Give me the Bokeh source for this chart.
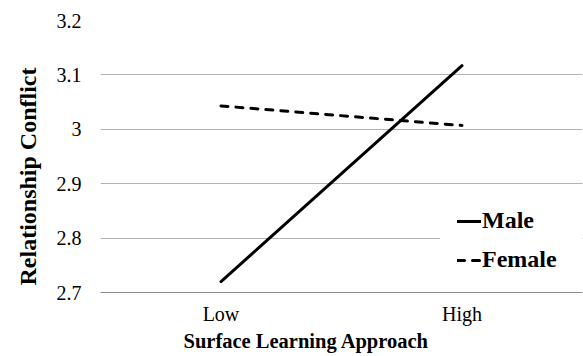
from bokeh.plotting import figure
from bokeh.models import FactorRange, Range1d, FixedTicker, Legend, LegendItem, Title
from bokeh.embed import file_html
from bokeh.resources import INLINE

categories = ["Low", "High"]
male = [2.72, 3.117]
female = [3.043, 3.007]
y_ticks = [2.7, 2.8, 2.9, 3.0, 3.1, 3.2]
y_tick_labels = ["2.7", "2.8", "2.9", "3", "3.1", "3.2"]
x_title = "Surface Learning Approach"
y_title = "Relationship Conflict"
series_names = ["Male", "Female"]

FONT = "Liberation Serif"

p = figure(width=583, height=356,
           x_range=FactorRange(*categories), y_range=Range1d(2.7, 3.2),
           output_backend="svg", toolbar_location=None,
           min_border_left=98, min_border_right=1,
           min_border_top=20, min_border_bottom=64)
p.outline_line_color = None
p.background_fill_color = "white"
p.border_fill_color = "white"
p.xgrid.grid_line_color = None
p.ygrid.grid_line_color = "#b3b3b3"
p.ygrid.grid_line_width = 1

p.yaxis.ticker = FixedTicker(ticks=y_ticks)
p.yaxis.major_label_overrides = dict(zip(y_ticks, y_tick_labels))
p.yaxis.axis_line_color = None
p.yaxis.major_tick_line_color = None
p.yaxis.minor_tick_line_color = None
p.yaxis.major_tick_out = 0
p.yaxis.major_tick_in = 0
p.yaxis.major_label_standoff = 19

p.xaxis.axis_line_color = "#8a8a8a"
p.xaxis.axis_line_width = 1
p.xaxis.major_tick_line_color = None
p.xaxis.minor_tick_line_color = None
p.xaxis.major_tick_out = 0
p.xaxis.major_tick_in = 0
p.xaxis.major_label_standoff = 10

for ax in (p.xaxis, p.yaxis):
    ax.major_label_text_font = FONT
    ax.major_label_text_font_size = "20px"
    ax.major_label_text_color = "black"

r_male = p.line(x=categories, y=male, line_color="black", line_width=3, line_cap="round")
r_female = p.line(x=categories, y=female, line_color="black", line_width=3,
                  line_dash="7 8", line_cap="round")

legend = Legend(items=[LegendItem(label=series_names[0], renderers=[r_male]),
                       LegendItem(label=series_names[1], renderers=[r_female])],
                location=(340, 2))
legend.background_fill_color = "white"
legend.background_fill_alpha = 1
legend.border_line_color = "white"
legend.border_line_width = 1
legend.padding = 16
legend.spacing = 12
legend.glyph_width = 24
legend.glyph_height = 20
legend.label_height = 27
legend.label_width = 90
legend.label_standoff = 1
legend.label_text_font = FONT
legend.label_text_font_size = "24px"
legend.label_text_font_style = "bold"
legend.label_text_color = "black"
legend.margin = 0
p.add_layout(legend)

p.add_layout(Title(text=x_title, align="left", offset=83, text_font=FONT,
                   text_font_size="20.5px", text_font_style="bold",
                   text_color="black", standoff=0), "below")
p.add_layout(Title(text=y_title, align="left", offset=7, text_font=FONT,
                   text_font_size="24px", text_font_style="bold",
                   text_color="black", standoff=25), "left")

open("out.html", "w").write(file_html(p, INLINE))
